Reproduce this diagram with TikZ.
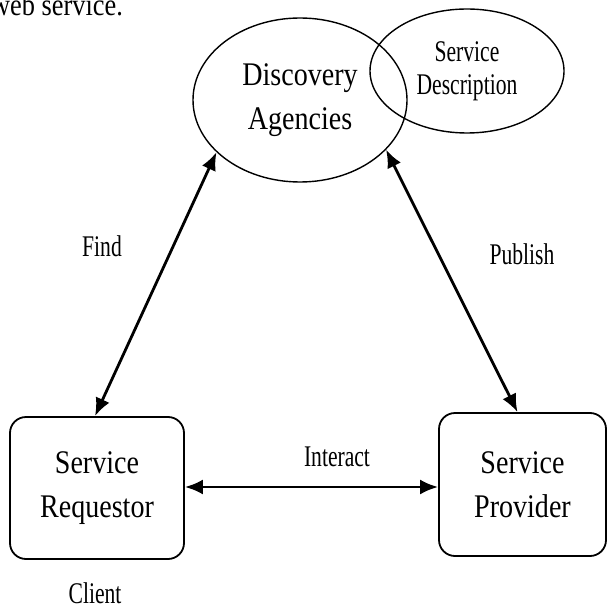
\documentclass[tikz,border=0pt]{standalone}
\usepackage{fontspec}
\setmainfont{Liberation Serif}[FakeStretch=0.85]
\newfontfamily\lblfont{Liberation Serif}[FakeStretch=0.72]
\usetikzlibrary{shapes.geometric,arrows.meta}
\tikzset{
	oval/.style 2 args={ellipse,draw,line width=1.4pt,inner sep=0pt,minimum width=#1,minimum height=#2,align=center},
	rbox/.style={rectangle,draw,line width=1.8pt,rounded corners=16pt,minimum width=170pt,minimum height=142pt,align=center,font=\fontsize{33}{44}\selectfont},
	lbl/.style={font=\lblfont\fontsize{30}{33}\selectfont},
	link/.style={{Latex[length=18pt,width=15pt]}-{Latex[length=18pt,width=15pt]},line width=2.8pt}
}
\begin{document}
\begin{tikzpicture}[x=1pt,y=-1pt]
	\useasboundingbox (0,0) rectangle (607,609);
	\node [anchor=base west,font=\fontsize{31}{31}\selectfont,inner sep=0pt] (top) at (-9,16) {web service.};

	\node [oval={214pt}{164pt},font=\fontsize{33}{44}\selectfont] (disc) at (300,100) {Discovery\\Agencies};
	\node [oval={194pt}{124pt},lbl] (desc) at (467,71) {Service\\Description};

	\node [rbox,minimum width=174pt] (req) at (97,488) {Service\\Requestor};
	\node [rbox,minimum width=167pt,minimum height=143pt] (prov) at (522.5,484.5) {Service\\Provider};

	\draw [link] (disc.212) -- ([xshift=-2pt]req.north);
	\draw [link] (disc.-30) -- ([xshift=-5pt]prov.north);
	\draw [link] (req.east |- 0,487) -- (prov.west |- 0,487);

	\node [lbl] (find) at (102,246) {Find};
	\node [lbl] (publish) at (522,254) {Publish};
	\node [lbl] (interact) at (337,457) {Interact};
	\node [lbl] (client) at (95,593) {Client};
\end{tikzpicture}
\end{document}
